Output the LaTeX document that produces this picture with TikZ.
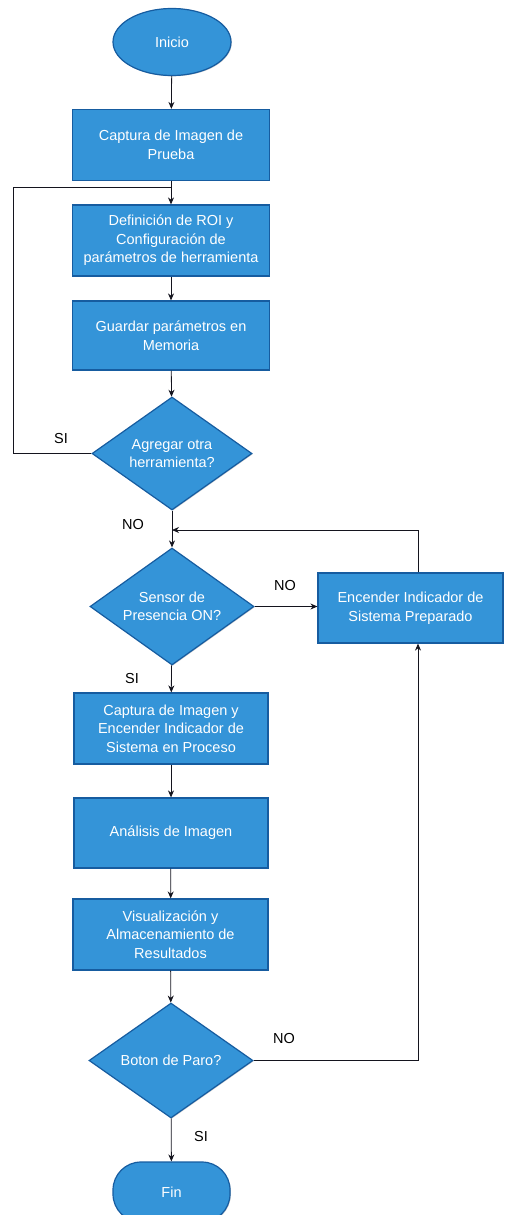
\documentclass[tikz,border=0pt]{standalone}
\usepackage{fontspec}
\setmainfont{Liberation Sans}
\usetikzlibrary{shapes.geometric,arrows.meta,shadows}
\definecolor{boxfill}{RGB}{52,148,216}
\definecolor{boxline}{RGB}{22,92,160}
\definecolor{linecol}{RGB}{20,20,30}
\tikzset{
  base/.style={fill=boxfill,draw=boxline,line width=1.2pt,text=white,align=center,
    font=\fontsize{14.5}{18.5}\selectfont,inner sep=2pt,
    drop shadow={shadow xshift=0.8pt,shadow yshift=-0.8pt,opacity=0.35,fill=black!60}},
  procbox/.style={base,rectangle,minimum width=196pt,minimum height=71pt},
  termbox/.style={base,ellipse,minimum width=118pt,minimum height=67pt},
  endbox/.style={base,rectangle,rounded corners=28pt,minimum width=117pt,minimum height=60pt},
  decbox/.style={base,diamond,aspect=1.42,inner sep=0pt},
  conn/.style={draw=linecol,line width=0.8pt,-{Stealth[length=7pt,width=6pt]}},
  plainconn/.style={draw=linecol,line width=0.8pt},
  lbl/.style={font=\fontsize{14.5}{17}\selectfont,text=black}
}
\begin{document}
\begin{tikzpicture}[x=1pt,y=-1pt]
\useasboundingbox (0,0) rectangle (505,1215);
\clip (0,0) rectangle (505,1215);
\node[termbox] (start) at (172,42) {Inicio};
\node[procbox,minimum width=197pt] (r1) at (171,145) {Captura de Imagen de\\Prueba};
\node[procbox,minimum width=197pt] (r2) at (171,240.5) {Definición de ROI y\\Configuración de\\parámetros de herramienta};
\node[procbox,minimum width=197pt,minimum height=69pt] (r3) at (171,335.5) {Guardar parámetros en\\Memoria};
\node[decbox,minimum width=160pt,minimum height=113pt] (d1) at (172,453.5) {Agregar otra\\herramienta?};
\node[decbox,minimum width=164pt,minimum height=117pt] (d2) at (172,606.5) {Sensor de\\Presencia ON?};
\node[procbox,minimum width=185pt,minimum height=70pt] (rr) at (410.5,608) {Encender Indicador de\\Sistema Preparado};
\node[procbox,minimum width=194pt] (r4) at (171,728.5) {Captura de Imagen y\\Encender Indicador de\\Sistema en Proceso};
\node[procbox,minimum width=194pt,minimum height=70pt] (r5) at (171,833) {Análisis de Imagen};
\node[procbox,minimum width=195pt] (r6) at (170.5,934.5) {Visualización y\\Almacenamiento de\\Resultados};
\node[decbox,minimum width=164pt,minimum height=115pt] (d3) at (171,1060.5) {Boton de Paro?};
\node[endbox] (fin) at (171.5,1192) {Fin};

\coordinate (fb) at (172,187);
\coordinate (fbl) at (13,187);
\coordinate (fbb) at (13,453.5);
\coordinate (mg) at (172,530);
\coordinate (rt) at (418,530);
\coordinate (rb) at (418,1060.5);

\draw[conn] (start) -- (r1);
\draw[conn] (r1) -- (r2);
\draw[conn] (r2) -- (r3);
\draw[conn] (r3) -- (d1);
\draw[plainconn] (d1.west) -- (fbb) -- (fbl) -- (fb);
\draw[conn] (d1) -- (d2);
\draw[conn] (d2.east) -- (d2.east -| rr.west);
\draw[conn] (rr.north -| rt) -- (rt) -- (mg);
\draw[conn] (d2) -- (r4);
\draw[conn] (r4) -- (r5);
\draw[conn] (r5) -- (r6);
\draw[conn] (r6) -- (d3);
\draw[conn] (d3.east) -- (rb) -- (rr.south -| rb);
\draw[conn] (d3) -- (fin);

\node[lbl] (l1) at (61,439) {SI};
\node[lbl] (l2) at (133,525) {NO};
\node[lbl] (l3) at (285,586) {NO};
\node[lbl] (l4) at (132,679) {SI};
\node[lbl] (l5) at (284,1038) {NO};
\node[lbl] (l6) at (201,1136) {SI};
\end{tikzpicture}
\end{document}
